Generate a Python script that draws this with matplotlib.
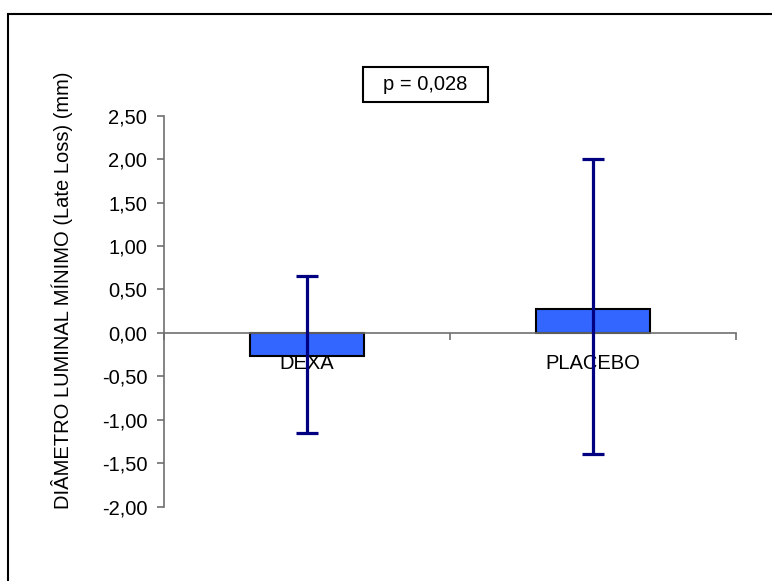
import numpy as np
import matplotlib.pyplot as plt
from matplotlib.patches import Rectangle

plt.rcParams['font.family'] = ['Liberation Sans', 'DejaVu Sans']

categories = ["DEXA", "PLACEBO"]
means = [-0.27, 0.28]
err_low = [-1.15, -1.39]   # lower end of the error bar
err_high = [0.66, 2.00]    # upper end of the error bar
y_ticks = [2.5, 2.0, 1.5, 1.0, 0.5, 0.0, -0.5, -1.0, -1.5, -2.0]
p_text = "p = 0,028"
y_label = "DIÂMETRO LUMINAL MÍNIMO (Late Loss) (mm)"

fig = plt.figure(figsize=(7.72, 5.81), dpi=100)
ax = fig.add_axes([164 / 772, 1 - 506.7 / 581, 572 / 772, 391 / 581])

x = np.arange(len(categories))
means_a = np.array(means)
yerr = [means_a - np.array(err_low), np.array(err_high) - means_a]

ax.bar(x, means, width=0.40, color="#3366FF", edgecolor="black", linewidth=1.5, zorder=2)
ax.errorbar(x, means, yerr=yerr, fmt="none", ecolor="#000080", elinewidth=2.3,
            capsize=8, capthick=2.3, zorder=5)

ax.set_xlim(-0.5, 1.5)
ax.set_ylim(-2.0, 2.5)
ax.set_yticks(y_ticks)
ax.set_yticklabels([f"{v:.2f}".replace(".", ",") for v in y_ticks])

# category axis sits on zero, marks between categories
ax.spines["bottom"].set_position(("data", 0))
ax.spines["top"].set_visible(False)
ax.spines["right"].set_visible(False)
for s in ("bottom", "left"):
    ax.spines[s].set_color("#707070")
    ax.spines[s].set_linewidth(1.2)
ax.set_xticks(x)
ax.set_xticklabels(categories)
ax.set_xticks([-0.5, 0.5, 1.5], minor=True)
ax.tick_params(axis="x", which="major", length=0, pad=15, labelsize=14.5)
ax.tick_params(axis="x", which="minor", length=5, width=1.2, color="#707070", direction="out")
ax.tick_params(axis="y", length=5, width=1.2, color="#707070", pad=7, labelsize=14.5)

ax.set_ylabel(y_label, fontsize=14.5)
ax.yaxis.set_label_coords(-91 / 572, 0.554)

# p-value box
fig.add_artist(Rectangle((363 / 772, 1 - 102 / 581), 125 / 772, 35 / 581,
                         transform=fig.transFigure, facecolor="white",
                         edgecolor="black", linewidth=1.5))
fig.text(425.5 / 772, 1 - 85 / 581, p_text, ha="center", va="center", fontsize=14.5)

# outer chart border
fig.add_artist(Rectangle((7.5 / 772, -0.1), 1.2, 1 - 13.5 / 581 + 0.1,
                         transform=fig.transFigure, fill=False,
                         edgecolor="black", linewidth=1.5))

fig.savefig("out.png", dpi=100)
